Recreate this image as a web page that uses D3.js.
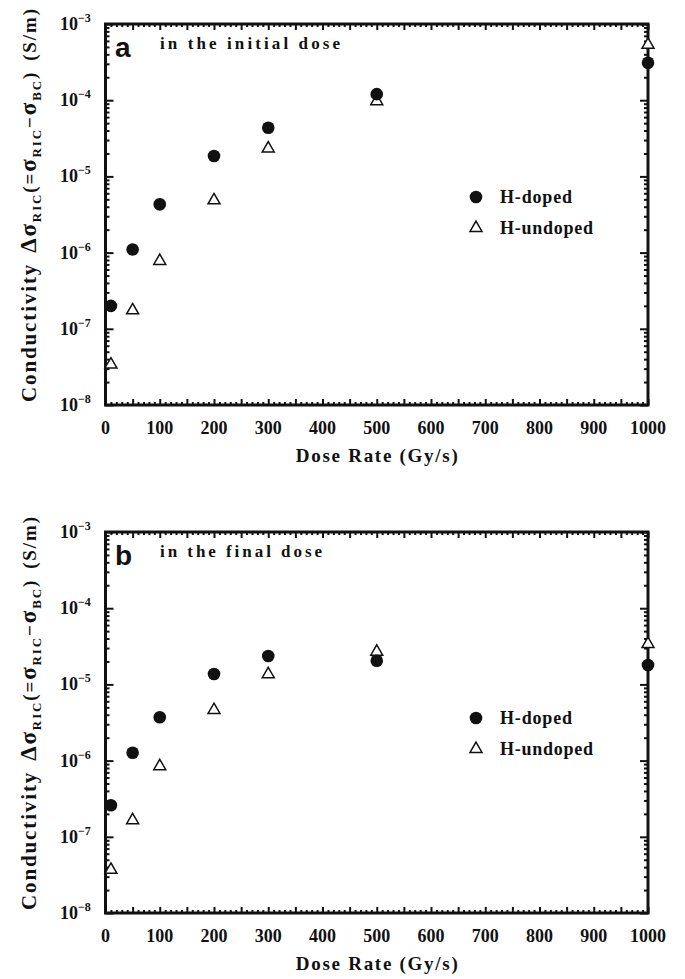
<!DOCTYPE html>
<html>
<head>
<meta charset="utf-8">
<title>dose rate conductivity</title>
<script src="https://cdn.jsdelivr.net/npm/d3@7/dist/d3.min.js"></script>
<style>
body { margin: 0; background: #fff; }
.txt { font-family: "Liberation Serif", "DejaVu Serif", serif; font-weight: bold; }
.num { font-family: "Liberation Serif", serif; font-weight: bold; }
</style>
</head>
<body>
<script>
// dose rates (Gy/s)
var doseRate = [10, 50, 100, 200, 300, 500, 1000];
// panel a: in the initial dose
var initialDoped   = [2.0e-7, 1.1e-6, 4.3e-6, 1.85e-5, 4.35e-5, 1.2e-4, 3.1e-4];
var initialUndoped = [3.5e-8, 1.8e-7, 8.0e-7, 5.0e-6, 2.4e-5, 1.0e-4, 5.5e-4];
// panel b: in the final dose
var finalDoped     = [2.6e-7, 1.27e-6, 3.7e-6, 1.37e-5, 2.36e-5, 2.04e-5, 1.8e-5];
var finalUndoped   = [3.8e-8, 1.7e-7, 8.7e-7, 4.75e-6, 1.4e-5, 2.77e-5, 3.5e-5];

var xTickLabels = [0, 100, 200, 300, 400, 500, 600, 700, 800, 900, 1000];
var yExponents = [-8, -7, -6, -5, -4, -3];

var w = 685, h = 979;
var svg = d3.select("body").append("svg").attr("width", w).attr("height", h);

var left = 105.5, right = 648;
var x = d3.scaleLinear().domain([0, 1000]).range([left, right]);

function panel(top, bottom, letter, note, noteLen, doped, undoped, legendY) {
	var y = d3.scaleLog().domain([1e-8, 1e-3]).range([bottom, top]);
	var g = svg.append("g");

	var minorX = d3.range(0, 1001, 10).filter(function(d){ return d % 50 != 0; });
	var majorX = d3.range(0, 1001, 50);
	var minorY = [], majorY = [];
	yExponents.forEach(function(e){
		majorY.push(Math.pow(10, e));
		if (e < -3) for (var k = 2; k < 10; k++) minorY.push(k * Math.pow(10, e));
	});

	function axisGroup(axis, tx, ty) {
		g.append("g").attr("transform", "translate(" + tx + "," + ty + ")").call(axis)
			.call(function(s){
				s.select(".domain").remove();
				s.selectAll(".tick line").attr("stroke", "#111").attr("stroke-width", 2);
			});
	}
	// inward ticks on all four sides
	axisGroup(d3.axisBottom(x).tickValues(minorX).tickSize(-3).tickFormat(""), 0, bottom);
	axisGroup(d3.axisBottom(x).tickValues(majorX).tickSize(-6).tickFormat(""), 0, bottom);
	axisGroup(d3.axisTop(x).tickValues(minorX).tickSize(-3).tickFormat(""), 0, top);
	axisGroup(d3.axisTop(x).tickValues(majorX).tickSize(-6).tickFormat(""), 0, top);
	axisGroup(d3.axisLeft(y).tickValues(minorY).tickSize(-4).tickFormat(""), left, 0);
	axisGroup(d3.axisLeft(y).tickValues(majorY).tickSize(-8).tickFormat(""), left, 0);
	axisGroup(d3.axisRight(y).tickValues(minorY).tickSize(-4).tickFormat(""), right, 0);
	axisGroup(d3.axisRight(y).tickValues(majorY).tickSize(-8).tickFormat(""), right, 0);

	g.append("rect").attr("x", left).attr("y", top)
		.attr("width", right - left).attr("height", bottom - top)
		.attr("fill", "none").attr("stroke", "#111").attr("stroke-width", 3);

	// x tick labels
	g.selectAll(".xl").data(xTickLabels).enter().append("text")
		.attr("class", "num").attr("x", function(d){ return x(d); }).attr("y", bottom + 29)
		.attr("text-anchor", "middle").attr("font-size", 18).attr("fill", "#111")
		.text(function(d){ return d; });

	// y tick labels 10^n
	var yl = g.selectAll(".yl").data(yExponents).enter().append("text")
		.attr("class", "num").attr("x", 60).attr("y", function(d){ return y(Math.pow(10, d)) + 6; })
		.attr("font-size", 18).attr("fill", "#111");
	yl.append("tspan").text("10");
	yl.append("tspan").attr("dy", -8).attr("font-size", 12).text(function(d){ return "\u2212" + (-d); });

	// x axis title
	g.append("text").attr("class", "txt").attr("x", (left + right) / 2).attr("y", bottom + 57)
		.attr("text-anchor", "middle").attr("font-size", 19).attr("fill", "#111")
		.attr("textLength", 162).attr("lengthAdjust", "spacing")
		.text("Dose Rate (Gy/s)");

	// y axis title
	var yt = g.append("text").attr("class", "txt")
		.attr("transform", "translate(36," + (bottom - 3) + ") rotate(-90)")
		.attr("font-size", 19).attr("fill", "#111")
		.attr("textLength", bottom - top + 12).attr("lengthAdjust", "spacing");
	yt.append("tspan").attr("font-size", 21).text("Conductivity");
	yt.append("tspan").attr("dx", 10).attr("font-size", 23).text("\u0394\u03c3");
	yt.append("tspan").attr("dy", 5).attr("font-size", 13).text("RIC");
	yt.append("tspan").attr("dy", -5).text("(=");
	yt.append("tspan").attr("font-size", 23).text("\u03c3");
	yt.append("tspan").attr("dy", 5).attr("font-size", 13).text("RIC");
	yt.append("tspan").attr("dy", -5).text("\u2212");
	yt.append("tspan").attr("font-size", 23).text("\u03c3");
	yt.append("tspan").attr("dy", 5).attr("font-size", 13).text("BC");
	yt.append("tspan").attr("dy", -5).text(")");
	yt.append("tspan").attr("dx", 10).text("(S/m)");

	// panel letter and note
	g.append("text").attr("x", 115).attr("y", top + 33)
		.attr("font-family", "Liberation Sans, Arial, sans-serif").attr("font-weight", "bold")
		.attr("font-size", 28).attr("fill", "#111").text(letter);
	g.append("text").attr("class", "txt").attr("x", 160).attr("y", top + 25)
		.attr("font-size", 17).attr("fill", "#111")
		.attr("textLength", noteLen).attr("lengthAdjust", "spacing").text(note);

	// markers
	var tri = d3.symbol().type(d3.symbolTriangle).size(62);
	g.selectAll(".tri").data(doseRate).enter().append("path")
		.attr("d", tri)
		.attr("transform", function(d, i){ return "translate(" + x(d) + "," + (y(undoped[i]) + 1) + ")"; })
		.attr("fill", "#fff").attr("stroke", "#111").attr("stroke-width", 1.5);
	g.selectAll(".dot").data(doseRate).enter().append("circle")
		.attr("cx", function(d){ return x(d); })
		.attr("cy", function(d, i){ return y(doped[i]); })
		.attr("r", 6.3).attr("fill", "#111");

	// legend
	g.append("circle").attr("cx", 476).attr("cy", legendY).attr("r", 6.3).attr("fill", "#111");
	g.append("path").attr("d", tri).attr("transform", "translate(476," + (legendY + 31) + ")")
		.attr("fill", "#fff").attr("stroke", "#111").attr("stroke-width", 1.5);
	g.append("text").attr("class", "txt").attr("x", 500).attr("y", legendY + 6)
		.attr("font-size", 18).attr("fill", "#111")
		.attr("textLength", 72).attr("lengthAdjust", "spacing").text("H-doped");
	g.append("text").attr("class", "txt").attr("x", 500).attr("y", legendY + 37)
		.attr("font-size", 18).attr("fill", "#111")
		.attr("textLength", 93).attr("lengthAdjust", "spacing").text("H-undoped");
}

panel(24, 405, "a", "in the initial dose", 180, initialDoped, initialUndoped, 197);
panel(532, 913, "b", "in the final dose", 162, finalDoped, finalUndoped, 718);
</script>
</body>
</html>
